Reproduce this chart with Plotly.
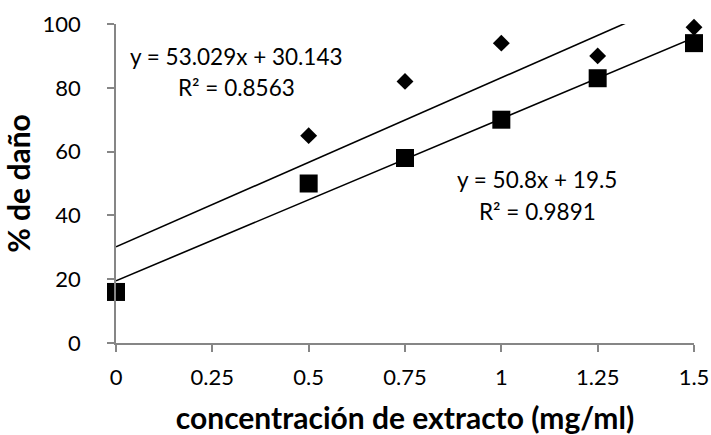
import numpy as np
import plotly.graph_objects as go

conc = [0, 0.5, 0.75, 1.0, 1.25, 1.5]
dano_diamante = [16, 65, 82, 94, 90, 99]
dano_cuadrado = [16, 50, 58, 70, 83, 94]
x_ticks = [0, 0.25, 0.5, 0.75, 1, 1.25, 1.5]
x_ticklabels = ["0", "0.25", "0.5", "0.75", "1", "1.25", "1.5"]
y_ticks = [0, 20, 40, 60, 80, 100]
eq1 = ["y = 53.029x + 30.143", "R² = 0.8563"]
eq2 = ["y = 50.8x + 19.5", "R² = 0.9891"]

FONT = "Lato"
fig = go.Figure()

for ys in (dano_diamante, dano_cuadrado):
    m, b = np.polyfit(conc, ys, 1)
    xl = np.array([min(conc), max(conc)])
    fig.add_trace(go.Scatter(x=xl, y=m * xl + b, mode="lines",
                             line=dict(color="black", width=1.6),
                             showlegend=False, hoverinfo="skip"))

fig.add_trace(go.Scatter(x=conc, y=dano_diamante, mode="markers",
                         marker=dict(symbol="diamond", size=13, color="black"),
                         cliponaxis=False, showlegend=False))
fig.add_trace(go.Scatter(x=conc, y=dano_cuadrado, mode="markers",
                         marker=dict(symbol="square", size=18, color="black"),
                         cliponaxis=False, showlegend=False))

af = dict(family=FONT, size=22.5, color="black")
fig.add_annotation(x=0.314, y=89.7, text=eq1[0], showarrow=False, font=af)
fig.add_annotation(x=0.314, y=80, text=eq1[1], showarrow=False, font=af)
fig.add_annotation(x=1.093, y=51.1, text=eq2[0], showarrow=False, font=af)
fig.add_annotation(x=1.093, y=41.1, text=eq2[1], showarrow=False, font=af)

axis_common = dict(showgrid=False, zeroline=False, showline=True, linecolor="#868686",
                   linewidth=1.5, ticks="outside", tickcolor="#868686", ticklen=7, tickwidth=1.5,
                   tickfont=dict(family=FONT, size=22, color="black"), automargin=False)
fig.update_xaxes(range=[0, 1.5], tickvals=x_ticks, ticktext=x_ticklabels,
                 ticklabelstandoff=7,
                 title=dict(text="<b>concentración de extracto (mg/ml)</b>",
                            font=dict(family=FONT, size=30, color="black"), standoff=24),
                 **axis_common)
fig.update_yaxes(range=[0, 100], tickvals=y_ticks, ticklabelstandoff=22,
                 title=dict(text="<b>% de daño</b>",
                            font=dict(family=FONT, size=30, color="black"), standoff=6),
                 **axis_common)
fig.update_layout(width=711, height=435, margin=dict(l=116, r=17, t=24, b=92),
                  plot_bgcolor="white", paper_bgcolor="white")
fig.write_html("out.html")
